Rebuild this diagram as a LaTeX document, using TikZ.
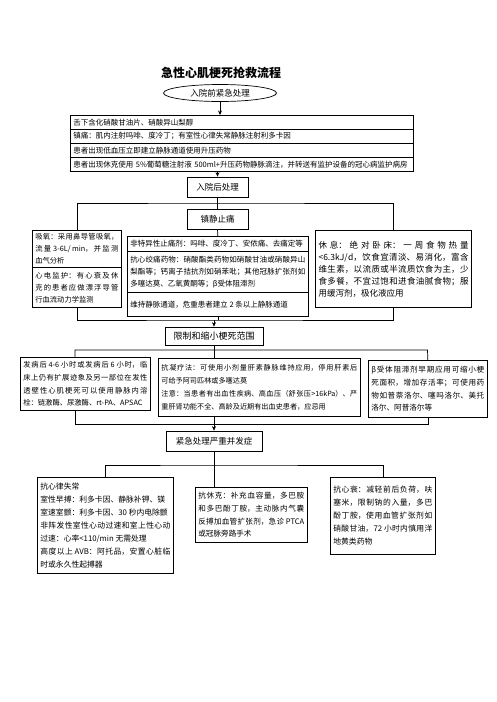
\documentclass[tikz,border=0pt]{standalone}
\usepackage{fontspec}
\setmainfont{Noto Sans CJK SC}
\usetikzlibrary{shapes.geometric,arrows.meta}
\XeTeXlinebreaklocale "zh"
\XeTeXlinebreakskip=0pt plus 3pt
\tolerance=10000
\hbadness=10000
\hyphenpenalty=10000
\exhyphenpenalty=10000
\setlength{\parindent}{0pt}
\newcommand\fsA{\fontsize{7.5}{12}\selectfont}
\newcommand\fsB{\fontsize{7.3}{12}\selectfont}
\newcommand\fsC{\fontsize{8.5}{12}\selectfont}
\newcommand\fsD{\fontsize{7.3}{12.8}\selectfont}
\newcommand\fsG{\fontsize{7.15}{12.8}\selectfont}
\newcommand\fsE{\fontsize{7.8}{13}\selectfont}
\newcommand\fsF{\fontsize{7.6}{12.6}\selectfont}
\begin{document}
\begin{tikzpicture}[x=1pt,y=-1pt,
  ln/.style={line width=0.7pt},
  arr/.style={line width=0.7pt,-{Stealth[length=4.5pt,width=4pt]}},
  tb/.style={draw,line width=0.7pt,rectangle,anchor=north west,inner xsep=3pt,inner ysep=1pt,align=justify},
  rowb/.style={draw,line width=0.7pt,rectangle,anchor=north west,inner xsep=3pt,inner ysep=0pt,align=left,text width=337pt,minimum height=14pt,font=\fsA},
  cb/.style={draw,line width=0.7pt,rectangle,inner sep=0pt}]
\useasboundingbox (0,0) rectangle (496,702);

\node[font=\fontsize{12}{14}\selectfont\bfseries] (title) at (221,73) {急性心肌梗死抢救流程};
\node[ellipse,draw,line width=0.7pt,minimum width=113pt,minimum height=17pt,inner sep=0pt,font=\fontsize{8.5}{10}\selectfont] (ell) at (220,93) {入院前紧急处理};

\node[rowb] (r1) at (70,115) {舌下含化硝酸甘油片、硝酸异山梨醇};
\node[rowb] (r2) at (70,129) {镇痛：肌内注射吗啡、度冷丁；有室性心律失常静脉注射利多卡因};
\node[rowb] (r3) at (70,143) {患者出现低血压立即建立静脉通道使用升压药物};
\node[rowb] (r4) at (70,157) {患者出现休克使用 5\%葡萄糖注射液 500ml+升压药物静脉滴注，并转送有监护设备的冠心病监护病房};

\node[cb,minimum width=61pt,minimum height=20pt,font=\fontsize{8.5}{10}\selectfont] (h1) at (217.5,187) {入院后处理};
\node[cb,minimum width=61pt,minimum height=20pt,font=\fontsize{8.5}{10}\selectfont] (h2) at (217.5,219) {镇静止痛};

% row 1 boxes
\node[tb,text width=83pt,minimum height=37pt,font=\fsB] (lb1) at (32,230) {吸氧：采用鼻导管吸氧，\linebreak 流量 3-6L/min，并监测\linebreak 血气分析};
\node[tb,text width=83pt,minimum height=40pt,font=\fsB] (lb2) at (32,267) {心电监护：有心衰及休\linebreak 克的患者应做漂浮导管\linebreak 行血流动力学监测};

\node[tb,text width=175pt,minimum height=15pt,font=\fsA] (mb1) at (127,236) {非特异性止痛剂：吗啡、度冷丁、安侬痛、去痛定等};
\node[tb,text width=175pt,minimum height=41pt,font=\fsA] (mb2) at (127,251) {抗心绞痛药物：硝酸酯类药物如硝酸甘油或硝酸异山\linebreak 梨酯等；钙离子拮抗剂如硝苯吡；其他冠脉扩张剂如\linebreak 多噻达莫、乙氧黄酮等；β受体阻滞剂};
\node[tb,text width=175pt,minimum height=24pt,font=\fsA] (mb3) at (127,292) {维持静脉通道，危重患者建立 2 条以上静脉通道};

\node[tb,line width=1.1pt,text width=150pt,minimum height=77pt,font=\fsC] (rb) at (315,230) {休息：绝对卧床：一周食物热量\linebreak <6.3kJ/d，饮食宜清淡、易消化，富含\linebreak 维生素，以流质或半流质饮食为主，少\linebreak 食多餐，不宜过饱和进食油腻食物；服\linebreak 用缓泻剂，极化液应用};

\node[cb,minimum width=98pt,minimum height=18pt,font=\fontsize{9}{11}\selectfont] (lim) at (214,336) {限制和缩小梗死范围};

% row 2 boxes
\node[tb,text width=124pt,minimum height=53pt,font=\fsD] (l2) at (20,357) {发病后 4-6 小时或发病后 6 小时，临\linebreak 床上仍有扩展迹象及另一部位在发性\linebreak 透壁性心肌梗死可以使用静脉内溶\linebreak 栓：链激酶、尿激酶、rt-PA、APSAC};
\node[tb,text width=196pt,minimum height=58pt,font=\fsG] (m2) at (158,358) {抗凝疗法：可使用小剂量肝素静脉维持应用，停用肝素后\linebreak 可给予阿司匹林或多噻达莫\par 注意：当患者有出血性疾病、高血压（舒张压>16kPa）、严\linebreak 重肝肾功能不全、高龄及近期有出血史患者，应忌用};
\node[tb,text width=113pt,minimum height=57pt,font=\fsF] (rr2) at (368,360) {β受体阻滞剂早期应用可缩小梗\linebreak 死面积，增加存活率；可使用药\linebreak 物如普萘洛尔、噻吗洛尔、美托\linebreak 洛尔、阿普洛尔等};

\node[cb,minimum width=96pt,minimum height=20pt,font=\fontsize{8.5}{10}\selectfont] (em) at (214,441) {紧急处理严重并发症};

% row 3 boxes
\node[tb,text width=130pt,minimum height=96pt,font=\fsE] (l3) at (37,477) {抗心律失常\par 室性早搏：利多卡因、静脉补钾、镁\par 室速室颤：利多卡因、30 秒内电除颤\par 非阵发性室性心动过速和室上性心动\linebreak 过速：心率<110/min 无需处理\par 高度以上 AVB：阿托品，安置心脏临\linebreak 时或永久性起搏器};
\node[tb,text width=106pt,minimum height=55pt,font=\fsF] (m3) at (195,487) {抗休克：补充血容量，多巴胺\linebreak 和多巴酚丁胺，主动脉内气囊\linebreak 反搏加血管扩张剂，急诊 PTCA\linebreak 或冠脉旁路手术};
\node[tb,text width=99pt,minimum height=77pt,font=\fsE] (r3b) at (330,477) {抗心衰：减轻前后负荷，呋\linebreak 塞米，限制钠的入量，多巴\linebreak 酚丁胺，使用血管扩张剂如\linebreak 硝酸甘油，72 小时内慎用洋\linebreak 地黄类药物};

% coordinates for junctions
\coordinate (j1) at (217.5,203);
\coordinate (j2) at (214,320);
\coordinate (j3a) at (75,350);
\coordinate (j3b) at (427.5,350);
\coordinate (j4a) at (75,424);
\coordinate (j5) at (214,465);

% connectors
\draw[arr] (ell.south) -- (ell.south |- r1.north);
\draw[arr] (r4.south -| h1.north) -- (h1.north);
\draw[ln] (h1.south) -- (h2.north);
\draw[ln] (lb1.north) |- (j1) -| (rb.north);
\draw[ln] (h2.south) -- (mb1.north);
\draw[ln] (lb2.south) |- (j2) -| (rb.south);
\draw[ln] (mb3.south) -- (mb3.south |- j2);
\draw[arr] (j2) -- (lim.north);
\draw[ln] (lim.south) -- (lim.south |- m2.north);
\draw[ln] (j3a |- l2.north) -- (j3a) -- (j3b) -- (rr2.north);
\draw[ln] (j4a |- l2.south) -- (j4a) -| (rr2.south);
\draw[arr] (em.north |- m2.south) -- (em.north);
\draw[ln] (em.south) -- (em.south |- m3.north);
\draw[ln] (l3.north) |- (j5) -| (r3b.north);
\end{tikzpicture}
\end{document}
